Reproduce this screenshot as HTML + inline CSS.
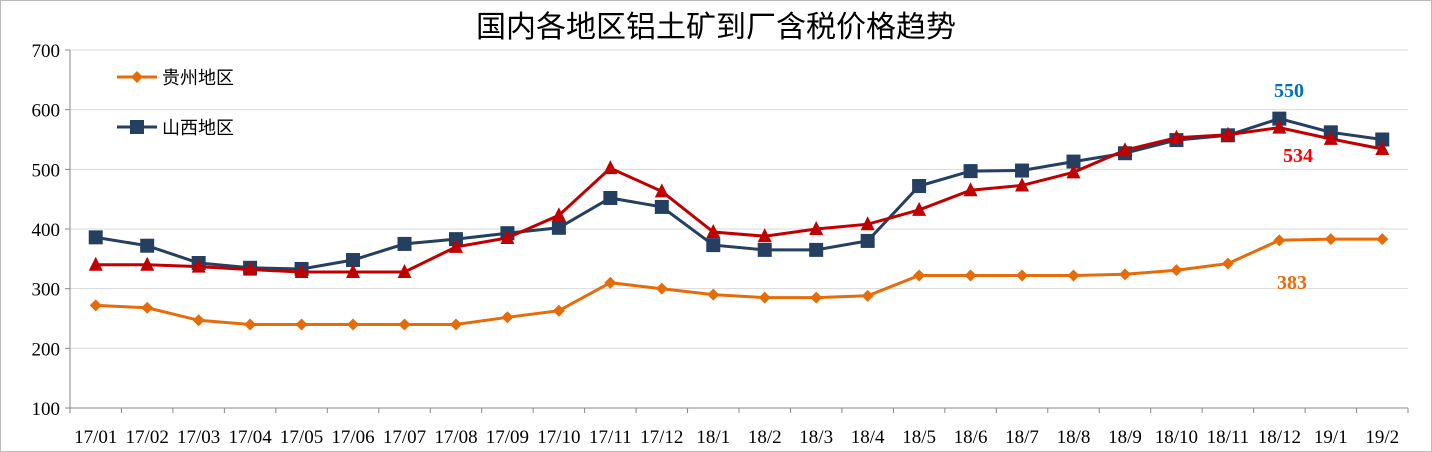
<!DOCTYPE html>
<html><head><meta charset="utf-8"><style>
html,body{margin:0;padding:0;background:#fff}
svg{display:block}
</style></head><body>
<svg id="c" width="1432" height="452" xmlns="http://www.w3.org/2000/svg" font-family="'Liberation Serif','Noto Serif CJK SC',serif">
<rect x="0.5" y="0.5" width="1431" height="451" fill="#fff" stroke="#bbb"/>
<text x="716" y="37" text-anchor="middle" font-size="30" font-family="'Liberation Sans','Noto Sans CJK SC',sans-serif" fill="#000">国内各地区铝土矿到厂含税价格趋势</text>
<g id="g"></g>
</svg>
<script>
var g=document.getElementById('g'),s='';
function Y(v){return 408-(v-100)*358/600;}
var x0=70,dx=1338/26;
function X(i){return x0+dx*(i+0.5);}
for(var v=100;v<=700;v+=100){var y=Y(v);
 if(v>100)s+='<line x1="70" x2="1408" y1="'+y+'" y2="'+y+'" stroke="#d9d9d9"/>';
 s+='<line x1="65" x2="70" y1="'+y+'" y2="'+y+'" stroke="#888"/>';
 s+='<text x="60" y="'+(y+7)+'" text-anchor="end" font-size="19">'+v+'</text>';}
s+='<line x1="70" x2="70" y1="50" y2="408" stroke="#888"/><line x1="70" x2="1408" y1="408" y2="408" stroke="#888"/>';
var lab=['17/01','17/02','17/03','17/04','17/05','17/06','17/07','17/08','17/09','17/10','17/11','17/12','18/1','18/2','18/3','18/4','18/5','18/6','18/7','18/8','18/9','18/10','18/11','18/12','19/1','19/2'];
for(var i=0;i<=26;i++){var x=x0+dx*i;s+='<line x1="'+x+'" x2="'+x+'" y1="408" y2="413" stroke="#888"/>';}
for(var i=0;i<26;i++)s+='<text x="'+X(i)+'" y="443" text-anchor="middle" font-size="19">'+lab[i]+'</text>';
var gz=[272,268,247,240,240,240,240,240,252,263,310,300,290,285,285,288,322,322,322,322,324,331,342,381,383,383];
var sx=[386,372,343,335,333,348,375,383,393,402,452,437,373,365,365,380,472,497,498,513,527,549,557,585,562,550];
var rd=[340,340,337,332,328,328,328,370,385,423,502,463,395,388,400,408,432,465,473,495,532,553,558,570,551,534];
function line(d,c){var p=d.map(function(v,i){return X(i).toFixed(1)+','+Y(v).toFixed(1)}).join(' ');
 return '<polyline points="'+p+'" fill="none" stroke="'+c+'" stroke-width="3"/>';}
s+=line(gz,'#E46C0A');
gz.forEach(function(v,i){var x=X(i),y=Y(v);s+='<polygon points="'+x+','+(y-6)+' '+(x+6)+','+y+' '+x+','+(y+6)+' '+(x-6)+','+y+'" fill="#E46C0A"/>';});
s+=line(sx,'#243F60');
sx.forEach(function(v,i){var x=X(i),y=Y(v);s+='<rect x="'+(x-7)+'" y="'+(y-7)+'" width="14" height="14" fill="#243F60"/>';});
s+=line(rd,'#C00000');
rd.forEach(function(v,i){var x=X(i),y=Y(v);s+='<polygon points="'+x+','+(y-8)+' '+(x+7)+','+(y+6)+' '+(x-7)+','+(y+6)+'" fill="#C00000"/>';});
s+='<text x="1289" y="97" text-anchor="middle" font-size="20" font-weight="bold" fill="#0070C0">550</text>';
s+='<text x="1298" y="162" text-anchor="middle" font-size="20" font-weight="bold" fill="#FF0000">534</text>';
s+='<text x="1292" y="289" text-anchor="middle" font-size="20" font-weight="bold" fill="#E46C0A">383</text>';
s+='<line x1="117" x2="157" y1="77" y2="77" stroke="#E46C0A" stroke-width="3"/><polygon points="137,71 143,77 137,83 131,77" fill="#E46C0A"/>';
s+='<text x="162" y="84" font-size="18" font-family="\'Liberation Sans\',\'Noto Sans CJK SC\',sans-serif">贵州地区</text>';
s+='<line x1="117" x2="157" y1="127" y2="127" stroke="#243F60" stroke-width="3"/><rect x="130" y="120" width="14" height="14" fill="#243F60"/>';
s+='<text x="162" y="134" font-size="18" font-family="\'Liberation Sans\',\'Noto Sans CJK SC\',sans-serif">山西地区</text>';
g.innerHTML=s;
</script>
</body></html>
